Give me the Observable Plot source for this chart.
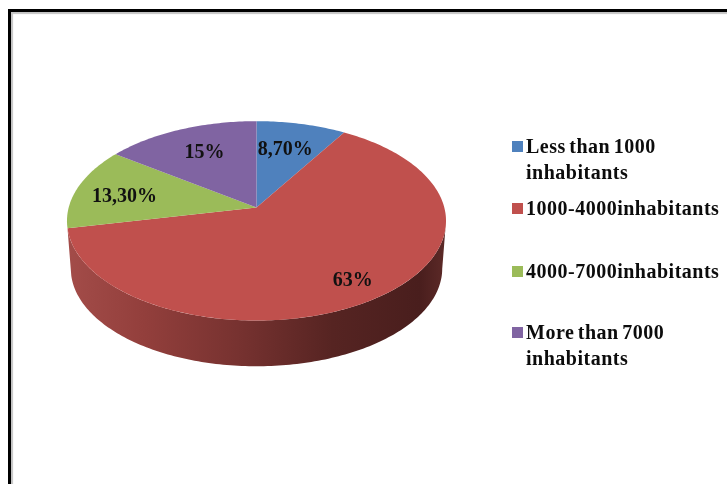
<!DOCTYPE html>
<html>
<head>
<meta charset="utf-8">
<script src="https://cdn.jsdelivr.net/npm/d3@7"></script>
<script src="https://cdn.jsdelivr.net/npm/@observablehq/plot@0.6"></script>
<style>
  html, body { margin: 0; padding: 0; background: #fff; overflow: hidden; }
  #page { position: relative; width: 727px; height: 484px; overflow: hidden; background: #fff; filter: blur(0.45px); }
  #frame { position: absolute; left: 8px; top: 9px; width: 730px; height: 490px; box-sizing: border-box;
           border-top: 3px solid #000; border-left: 3px solid #000;
           box-shadow: inset 2px 2px 1px #c4c4c4; }
  #chart { position: absolute; left: 0; top: 0; }
  #chart svg { background: transparent; }
  .lg { position: absolute; font: bold 20px/26px "Liberation Serif", serif; letter-spacing: 0.5px; word-spacing: -2px; color: #0c0c0c; white-space: pre; left: 526px; }
  .sw { position: absolute; left: 512px; width: 11px; height: 11px; }
</style>
</head>
<body>
<div id="page"><div id="frame"></div><div id="chart"></div></div>
<script>
const categories = ["Less than 1000\ninhabitants", "1000-4000inhabitants", "4000-7000inhabitants", "More than 7000\ninhabitants"];
const shares = [8.7, 63, 13.3, 15];
const shareLabels = ["8,70%", "63%", "13,30%", "15%"];
const sliceColors = ["#4f81bd", "#c0504d", "#9bbb59", "#8064a2"];

// Tilted-disc projection of the unit circle
const tilt = 0.134;
const width = 727, height = 484;
const cx = 256, cy = 207, ax = 187.8, ay = 97.9;
const project = (r, a) => {
  const X = r * Math.sin(a), Y = -r * Math.cos(a), w = 1 - tilt * Y;
  return [X / w, Y / w];
};
const rad = (p) => (p / 100) * 2 * Math.PI;

// Slices
let start = 0;
const slices = categories.map((c, i) => {
  const s = { category: c, i, from: start, to: start + shares[i] };
  start = s.to;
  return s;
});
const outline = [];
for (const s of slices) {
  const n = Math.max(2, Math.ceil((s.to - s.from) * 3.6));
  const add = (r, p) => { const [x, y] = project(r, rad(p)); outline.push({ category: s.category, x, y }); };
  add(0, 0);
  for (let k = 0; k <= n; k++) add(1, s.from + ((s.to - s.from) * k) / n);
}

// Side wall of the largest, front-facing slice
const depth = 48 / ay, shrink = 0.98;
const front = slices[1];
const sideFrom = 27.2, sideTo = front.to;
const wall = [];
const N = 160;
for (let k = 0; k <= N; k++) {
  const [x, y] = project(1, rad(sideFrom + ((sideTo - sideFrom) * k) / N));
  wall.push({ x, y });
}
for (let k = N; k >= 0; k--) {
  const [x, y] = project(1, rad(sideFrom + ((sideTo - sideFrom) * k) / N));
  wall.push({ x: x * shrink, y: y * shrink + depth });
}

// Data labels: reach along the slice's middle, then a small pixel nudge
const labelReach = [0.68, 0.82, 0.72, 0.70];
const labelNudge = [[-3, 0], [-1.5, 0], [-2.5, 3], [3, 0]];
const labels = slices.map((s) => {
  const [x, y] = project(labelReach[s.i], rad((s.from + s.to) / 2));
  const [nx, ny] = labelNudge[s.i];
  return { x: x + nx / ax, y: y + ny / ay, text: shareLabels[s.i] };
});

const plot = Plot.plot({
  width, height,
  margin: 0,
  style: { background: "transparent" },
  x: { axis: null, domain: [-cx / ax, (width - cx) / ax], range: [0, width] },
  y: { axis: null, domain: [-cy / ay, (height - cy) / ay], range: [0, height] },
  color: { domain: categories, range: sliceColors },
  marks: [
    Plot.line(wall, { x: "x", y: "y", fill: "url(#sideShade)", stroke: "none", curve: "linear" }),
    Plot.line(outline, { x: "x", y: "y", z: "category", fill: "category", stroke: "none", curve: "linear" }),
    Plot.text(labels, { x: "x", y: "y", text: "text", fontFamily: "Liberation Serif", fontWeight: "bold", fontSize: 20, fill: "#111" })
  ]
});

// Shading of the wall, dark towards the right
const defs = d3.select(plot).insert("defs", ":first-child");
const grad = defs.append("linearGradient").attr("id", "sideShade").attr("x1", 0).attr("x2", 1).attr("y1", 0).attr("y2", 0);
[[0, "#a34c49"], [0.2, "#933f3c"], [0.45, "#773230"], [0.7, "#562422"], [0.93, "#491e1d"], [1, "#5d2a28"]]
  .forEach(([o, c]) => grad.append("stop").attr("offset", o).attr("stop-color", c));
document.getElementById("chart").appendChild(plot);

// Legend
const page = document.getElementById("page");
const legendTops = [133, 195, 258, 319];
categories.forEach((c, i) => {
  const t = document.createElement("div");
  t.className = "lg"; t.textContent = c; t.style.top = legendTops[i] + "px";
  page.appendChild(t);
  const sw = document.createElement("div");
  sw.className = "sw"; sw.style.background = sliceColors[i]; sw.style.top = (legendTops[i] + 8) + "px";
  page.appendChild(sw);
});
</script>
</body>
</html>
